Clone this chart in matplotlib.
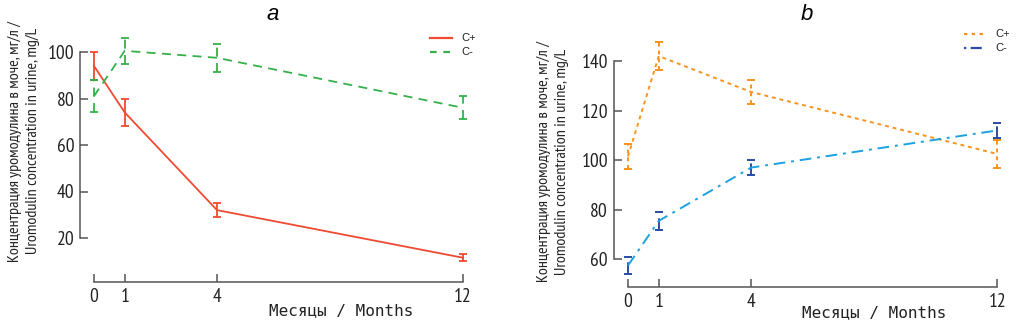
import numpy as np
import matplotlib
matplotlib.use("Agg")
import matplotlib.pyplot as plt

# ---- data ----
months = [0, 1, 4, 12]
month_labels = ['0', '1', '4', '12']

a_pos = [94, 74, 32, 11.5]
a_pos_err = [6, 6, 3, 1.5]
a_neg = [81, 100.5, 97.5, 76]
a_neg_err = [7, 5.5, 6, 5]

b_pos = [101.5, 142, 127.5, 102.5]
b_pos_err = [5, 5.5, 5, 5.5]
b_neg = [57.5, 75.5, 97, 112]
b_neg_err = [3.5, 3.5, 3, 3]

a_yticks = [20, 40, 60, 80, 100]
b_yticks = [60, 80, 100, 120, 140]

ylabel = 'Концентрация уромодулина в моче, мг/л /\nUromodulin concentration in urine, mg/L'
xlabel = 'Месяцы / Months'

narrow = ['PT Sans Narrow', 'Roboto Condensed', 'Fira Sans Condensed', 'DejaVu Sans']
spine_col = '#555555'

W, H = 1024, 324
fig = plt.figure(figsize=(W / 100, H / 100), dpi=100)


def px_axes(x0, x1, y0, y1):
    return fig.add_axes([x0 / W, 1 - y1 / H, (x1 - x0) / W, (y1 - y0) / H])


def style_axes(ax, yticks, ybounds, xspine_y, yspine_x):
    for s in ['top', 'right']:
        ax.spines[s].set_visible(False)
    ax.spines['left'].set_bounds(*ybounds)
    ax.spines['bottom'].set_bounds(0, 12)
    ax.spines['left'].set_position(('data', yspine_x))
    ax.spines['bottom'].set_position(('data', xspine_y))
    for s in ['left', 'bottom']:
        ax.spines[s].set_color(spine_col)
        ax.spines[s].set_linewidth(1.1)
    ax.set_xticks(months)
    ax.set_xticklabels(month_labels)
    ax.set_yticks(yticks)
    ax.tick_params(direction='in', length=6, width=1.1, color=spine_col,
                   labelsize=14, pad=4)
    for lab in ax.get_xticklabels() + ax.get_yticklabels():
        lab.set_family(narrow)
        lab.set_color('#222222')


def draw(ax, y, err, color, ls, lw, ecolor=None):
    eb = ax.errorbar(months, y, yerr=err, color=color, ecolor=ecolor or color,
                     lw=lw, elinewidth=lw, capsize=3.2, capthick=lw)
    eb[0].set_linestyle(ls)
    eb[2][0].set_linestyle(ls)
    for c in eb[1]:
        c.set_clip_on(False)
    eb[0].set_clip_on(False)
    eb[2][0].set_clip_on(False)
    return eb


# ---- panel a ----
axa = px_axes(78.6, 478.4, 33.4, 284.5)
axa.set_xlim(-0.5, 12.5)
axa.set_ylim(0, 108)
draw(axa, a_pos, a_pos_err, '#f04a32', '-', 1.3)
draw(axa, a_neg, a_neg_err, '#36b04a', (0, (5, 3.5)), 1.3)
style_axes(axa, a_yticks, (20, 100), 1.0, -0.455)

# ---- panel b ----
axb = px_axes(612.6, 1012.7, 36.2, 296.5)
axb.set_xlim(-0.5, 12.5)
axb.set_ylim(45, 150)
draw(axb, b_pos, b_pos_err, '#f7941d', (0, (2, 2)), 1.4)
draw(axb, b_neg, b_neg_err, '#1ba1e2', (0, (6, 3, 1.5, 3)), 1.4, ecolor='#2a4da3')
style_axes(axb, b_yticks, (60, 140), 48.7, -0.465)

# ---- legends (small line samples) ----
def legend(x0, y0, items):
    for i, (lab, col, ls) in enumerate(items):
        yy = 1 - (y0 + i * 14) / H
        fig.add_artist(plt.Line2D([x0 / W, (x0 + 22) / W], [yy, yy],
                                  color=col, ls=ls, lw=1.6))
        fig.text((x0 + 31) / W, yy, lab, fontsize=8, va='center',
                 family='Liberation Sans', color='#222222')


legend(430, 38, [('C+', '#f04a32', '-'), ('C-', '#36b04a', (0, (3, 3)))])
legend(964, 34, [('C+', '#f7941d', (0, (1.5, 2))), ('C-', '#2a4da3', (0, (1, 2, 5, 2)))])

# ---- titles and axis labels ----
fig.text(273 / W, 1 - 15 / H, 'a', fontsize=16, style='italic', ha='center', va='center',
         family='Liberation Sans')
fig.text(807 / W, 1 - 15 / H, 'b', fontsize=16, style='italic', ha='center', va='center',
         family='Liberation Sans')

for cx, cy in [(24, 141), (553, 162)]:
    fig.text(cx / W, 1 - cy / H, ylabel, rotation=90, fontsize=11.5, ha='center',
             va='center', family=narrow, color='#222222', linespacing=1.35)

for cx, cy in [(341, 311), (874, 313)]:
    fig.text(cx / W, 1 - cy / H, xlabel, fontsize=11.5, ha='center', va='center',
             family=['DejaVu Sans Mono'], color='#222222')

fig.savefig('out.png', dpi=100)
